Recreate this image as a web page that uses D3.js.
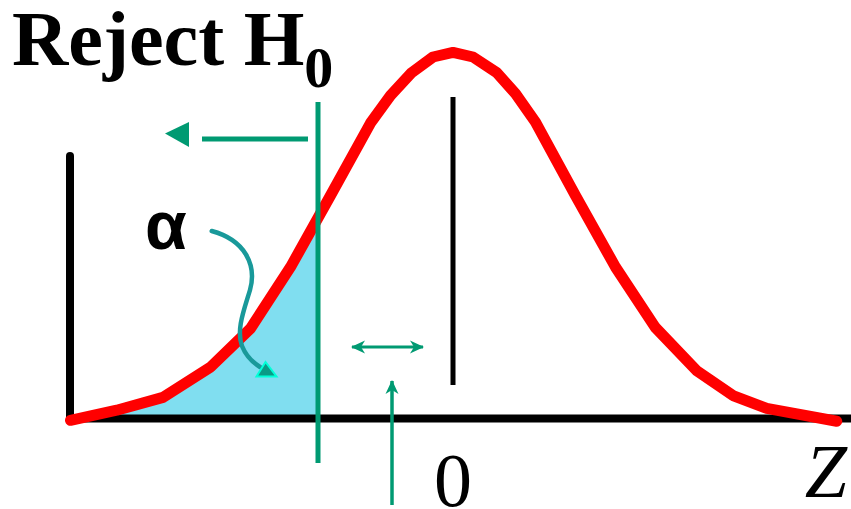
<!DOCTYPE html>
<html lang="en">
	<head>
		<meta charset="utf-8">
		<title>Reject H0 - lower tail</title>
		<script type="text/javascript" src="https://cdn.jsdelivr.net/npm/d3@7/dist/d3.min.js"></script>
		<style type="text/css">
			body { margin: 0; background: #fff; }
			svg { display: block; }
		</style>
	</head>
	<body>
		<script type="text/javascript">
			//Width and height
			var w = 851;
			var h = 509;

			//Curve (z, density)
			var curveZ = [ -3.06, -2.69, -2.32, -1.94, -1.62, -1.30, -0.98, -0.66, -0.50, -0.33, -0.16, 0,
							0.16, 0.35, 0.50, 0.66, 0.98, 1.30, 1.62, 1.95, 2.24, 2.51, 3.07 ];
			var curveDensity = [ -0.002, 0.009, 0.023, 0.056, 0.098, 0.165, 0.243, 0.322, 0.352, 0.377, 0.394, 0.399,
							0.394, 0.377, 0.354, 0.323, 0.243, 0.165, 0.099, 0.052, 0.025, 0.011, -0.003 ];
			var zCritical = -1.08;
			var tickValues = [0];
			var tickLabels = ["0"];
			var axisLabel = "Z";
			var regionLabel = "Reject H";
			var regionSub = "0";
			var areaLabel = "\u03b1";

			var green = "#009a72";

			var xScale = d3.scaleLinear()
							.domain([-3.064, 3.192])
							.range([70, 852]);
			var yScale = d3.scaleLinear()
							.domain([0, 0.4])
							.range([418.5, 51.5]);

			var data = curveZ.map(function(z, i) {
				return { z: z, d: curveDensity[i] };
			});

			//Create SVG element
			var svg = d3.select("body")
						.append("svg")
						.attr("width", w)
						.attr("height", h);

			svg.append("rect")
			   .attr("width", w)
			   .attr("height", h)
			   .attr("fill", "#fff");

			var defs = svg.append("defs");
			defs.append("clipPath")
				.attr("id", "tail")
				.append("rect")
				.attr("x", xScale(-3.064))
				.attr("y", 0)
				.attr("width", xScale(zCritical) - xScale(-3.064))
				.attr("height", yScale(0));

			defs.append("marker")
				.attr("id", "head")
				.attr("viewBox", "-14 -7 16 14")
				.attr("markerWidth", 16)
				.attr("markerHeight", 14)
				.attr("markerUnits", "userSpaceOnUse")
				.attr("refX", 0)
				.attr("refY", 0)
				.attr("orient", "auto-start-reverse")
				.append("path")
				.attr("d", "M1,0 L-13,-6.5 L-9,0 L-13,6.5 Z")
				.attr("fill", green);

			//Shaded tail area
			var area = d3.area()
						.x(function(d) { return xScale(d.z); })
						.y0(yScale(0))
						.y1(function(d) { return yScale(Math.max(0, d.d)); });

			svg.append("path")
			   .datum(data)
			   .attr("d", area)
			   .attr("clip-path", "url(#tail)")
			   .attr("fill", "#80def0");

			//Axes
			svg.append("line")
			   .attr("x1", xScale(-3.064))
			   .attr("x2", w)
			   .attr("y1", yScale(0))
			   .attr("y2", yScale(0))
			   .attr("stroke", "#000")
			   .attr("stroke-width", 8);

			svg.append("line")
			   .attr("x1", xScale(-3.064))
			   .attr("x2", xScale(-3.064))
			   .attr("y1", yScale(0))
			   .attr("y2", 156)
			   .attr("stroke", "#000")
			   .attr("stroke-width", 8)
			   .attr("stroke-linecap", "round");

			//Normal curve
			var line = d3.line()
						.x(function(d) { return xScale(d.z); })
						.y(function(d) { return yScale(d.d); });

			svg.append("path")
			   .datum(data)
			   .attr("d", line)
			   .attr("fill", "none")
			   .attr("stroke", "#ff0000")
			   .attr("stroke-width", 11)
			   .attr("stroke-linejoin", "round")
			   .attr("stroke-linecap", "round");

			//Mean line
			svg.append("line")
			   .attr("x1", xScale(0))
			   .attr("x2", xScale(0))
			   .attr("y1", 97)
			   .attr("y2", 385)
			   .attr("stroke", "#000")
			   .attr("stroke-width", 5);

			//Critical value line
			svg.append("line")
			   .attr("x1", xScale(zCritical))
			   .attr("x2", xScale(zCritical))
			   .attr("y1", 102)
			   .attr("y2", 463)
			   .attr("stroke", green)
			   .attr("stroke-width", 5);

			//Reject arrow
			var cx = xScale(zCritical);
			svg.append("line")
			   .attr("x1", cx - 116)
			   .attr("x2", cx - 10)
			   .attr("y1", 139)
			   .attr("y2", 139)
			   .attr("stroke", green)
			   .attr("stroke-width", 5);
			svg.append("path")
			   .attr("d", "M" + (cx - 153) + ",133.5 L" + (cx - 129) + ",122 L" + (cx - 129) + ",147 Z")
			   .attr("fill", green);

			//Double arrow and pointer arrow
			svg.append("line")
			   .attr("x1", 352)
			   .attr("x2", 423)
			   .attr("y1", 347)
			   .attr("y2", 347)
			   .attr("stroke", green)
			   .attr("stroke-width", 3)
			   .attr("marker-start", "url(#head)")
			   .attr("marker-end", "url(#head)");

			svg.append("line")
			   .attr("x1", 392)
			   .attr("x2", 392)
			   .attr("y1", 505)
			   .attr("y2", 381)
			   .attr("stroke", green)
			   .attr("stroke-width", 3.5)
			   .attr("marker-end", "url(#head)");

			//Alpha pointer
			svg.append("path")
			   .attr("d", "M211.7,231 C245,240 257,265 250,290 C244,310 236,330 242,346 C246,356 252,362 260,367")
			   .attr("fill", "none")
			   .attr("stroke", "#19999a")
			   .attr("stroke-width", 4.5)
			   .attr("stroke-linecap", "round");
			svg.append("path")
			   .attr("d", "M265.5,362 L256.5,376.5 L276.5,376.5 Z")
			   .attr("fill", "#0a9a86")
			   .attr("stroke", "#00ffd8")
			   .attr("stroke-width", 2);

			//Labels
			svg.append("text")
			   .attr("x", 166)
			   .attr("y", 249)
			   .attr("text-anchor", "middle")
			   .attr("font-family", "Liberation Sans, Arial, sans-serif")
			   .attr("font-weight", "bold")
			   .attr("font-size", "68px")
			   .text(areaLabel);

			var title = svg.append("text")
			   .attr("x", 12)
			   .attr("y", 65)
			   .attr("font-family", "Liberation Serif, Times New Roman, serif")
			   .attr("font-weight", "bold")
			   .attr("font-size", "78px");
			title.append("tspan").text(regionLabel);
			title.append("tspan")
				 .attr("dy", 22)
				 .attr("font-size", "58px")
				 .text(regionSub);

			svg.selectAll("text.tick")
			   .data(tickValues)
			   .enter()
			   .append("text")
			   .attr("class", "tick")
			   .attr("x", function(d) { return xScale(d); })
			   .attr("y", 506)
			   .attr("text-anchor", "middle")
			   .attr("font-family", "Liberation Serif, Times New Roman, serif")
			   .attr("font-size", "76px")
			   .text(function(d, i) { return tickLabels[i]; });

			svg.append("text")
			   .attr("x", 847)
			   .attr("y", 497)
			   .attr("text-anchor", "end")
			   .attr("font-family", "Liberation Serif, Times New Roman, serif")
			   .attr("font-style", "italic")
			   .attr("font-size", "76px")
			   .text(axisLabel);
		</script>
	</body>
</html>
